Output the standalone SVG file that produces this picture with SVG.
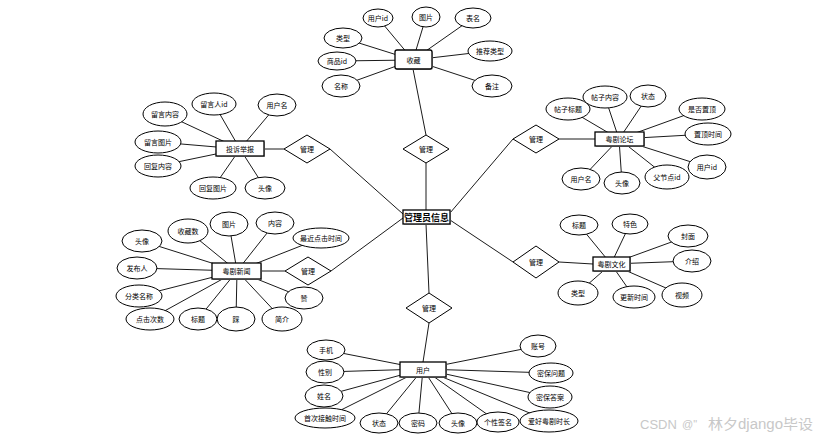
<svg xmlns="http://www.w3.org/2000/svg" width="831" height="440" viewBox="0 0 831 440">
<style>
.c line{stroke:#000;stroke-width:0.9}
.a ellipse{fill:#fff;stroke:#000;stroke-width:1}
.e rect.s{fill:#bbb;stroke:none}
.e rect.b{fill:#fff;stroke:#000;stroke-width:1.3}
.d polygon{fill:#fff;stroke:#000;stroke-width:1}
text{font-family:"Noto Sans CJK SC","Liberation Sans",sans-serif;font-size:7px;fill:#000;text-anchor:middle;dominant-baseline:central}
.big{font-size:9px;font-weight:bold}
.wm{font-size:13px;fill:#c8c8c8;text-anchor:start;font-family:"Liberation Sans","Noto Sans CJK SC",sans-serif}
</style>
<rect width="831" height="440" fill="#fff"/>
<g id="connectors" class="c">
<line x1="413" y1="69" x2="426" y2="135"/>
<line x1="426" y1="163" x2="426" y2="210"/>
<line x1="264" y1="149" x2="284" y2="149"/>
<line x1="330" y1="149" x2="403" y2="214"/>
<line x1="261" y1="271" x2="285" y2="271"/>
<line x1="331" y1="271" x2="403" y2="218"/>
<line x1="450" y1="213" x2="513" y2="139"/>
<line x1="559" y1="139" x2="595" y2="139"/>
<line x1="450" y1="220" x2="513" y2="262"/>
<line x1="559" y1="262" x2="593" y2="264"/>
<line x1="426" y1="224" x2="429" y2="293"/>
<line x1="429" y1="323" x2="423" y2="362"/>
<line x1="378" y1="18" x2="413" y2="60"/>
<line x1="426" y1="17" x2="413" y2="60"/>
<line x1="473" y1="18" x2="413" y2="60"/>
<line x1="343" y1="38" x2="413" y2="60"/>
<line x1="337" y1="61" x2="413" y2="60"/>
<line x1="341" y1="86" x2="413" y2="60"/>
<line x1="490" y1="51" x2="413" y2="60"/>
<line x1="492" y1="86" x2="413" y2="60"/>
<line x1="165" y1="114" x2="240" y2="149"/>
<line x1="214" y1="104" x2="240" y2="149"/>
<line x1="277" y1="105" x2="240" y2="149"/>
<line x1="158" y1="142" x2="240" y2="149"/>
<line x1="158" y1="166" x2="240" y2="149"/>
<line x1="213" y1="188" x2="240" y2="149"/>
<line x1="265" y1="188" x2="240" y2="149"/>
<line x1="568" y1="109" x2="619" y2="139"/>
<line x1="605" y1="97" x2="619" y2="139"/>
<line x1="648" y1="96" x2="619" y2="139"/>
<line x1="702" y1="109" x2="619" y2="139"/>
<line x1="708" y1="134" x2="619" y2="139"/>
<line x1="707" y1="167" x2="619" y2="139"/>
<line x1="581" y1="179" x2="619" y2="139"/>
<line x1="622" y1="183" x2="619" y2="139"/>
<line x1="667" y1="177" x2="619" y2="139"/>
<line x1="142" y1="241" x2="237" y2="271"/>
<line x1="137" y1="268" x2="237" y2="271"/>
<line x1="139" y1="296" x2="237" y2="271"/>
<line x1="150" y1="319" x2="237" y2="271"/>
<line x1="188" y1="231" x2="237" y2="271"/>
<line x1="229" y1="224" x2="237" y2="271"/>
<line x1="275" y1="223" x2="237" y2="271"/>
<line x1="321" y1="238" x2="237" y2="271"/>
<line x1="304" y1="298" x2="237" y2="271"/>
<line x1="282" y1="319" x2="237" y2="271"/>
<line x1="236" y1="319" x2="237" y2="271"/>
<line x1="198" y1="319" x2="237" y2="271"/>
<line x1="579" y1="225" x2="611" y2="264"/>
<line x1="630" y1="224" x2="611" y2="264"/>
<line x1="688" y1="236" x2="611" y2="264"/>
<line x1="692" y1="261" x2="611" y2="264"/>
<line x1="682" y1="295" x2="611" y2="264"/>
<line x1="578" y1="293" x2="611" y2="264"/>
<line x1="634" y1="297" x2="611" y2="264"/>
<line x1="326" y1="350" x2="423" y2="369"/>
<line x1="325" y1="372" x2="423" y2="369"/>
<line x1="324" y1="396" x2="423" y2="369"/>
<line x1="325" y1="418" x2="423" y2="369"/>
<line x1="379" y1="423" x2="423" y2="369"/>
<line x1="418" y1="423" x2="423" y2="369"/>
<line x1="458" y1="423" x2="423" y2="369"/>
<line x1="498" y1="422" x2="423" y2="369"/>
<line x1="549" y1="421" x2="423" y2="369"/>
<line x1="538" y1="346" x2="423" y2="369"/>
<line x1="551" y1="373" x2="423" y2="369"/>
<line x1="550" y1="397" x2="423" y2="369"/>
</g>

<g id="rel-top" class="d"><polygon points="426,135 449,149 426,163 403,149"/><text x="426" y="149">管理</text></g>
<g id="rel-ul" class="d"><polygon points="307,135 330,149 307,163 284,149"/><text x="307" y="149">管理</text></g>
<g id="rel-ll" class="d"><polygon points="308,257 331,271 308,285 285,271"/><text x="308" y="271">管理</text></g>
<g id="rel-ur" class="d"><polygon points="536,125 559,139 536,153 513,139"/><text x="536" y="139">管理</text></g>
<g id="rel-lr" class="d"><polygon points="536,246 559,262 536,278 513,262"/><text x="536" y="262">管理</text></g>
<g id="rel-bottom" class="d"><polygon points="429,293 452,308 429,323 406,308"/><text x="429" y="308">管理</text></g>

<g id="ent-shoucang" class="e"><rect class="s" x="396" y="51" width="37" height="19" rx="2"/><rect class="b" x="395" y="50" width="37" height="19" rx="2"/><text x="413.5" y="59.5">收藏</text></g>
<g id="ent-tousu" class="e"><rect class="s" x="217" y="142" width="48" height="15"/><rect class="b" x="216" y="141" width="48" height="15"/><text x="240" y="148.5">投诉举报</text></g>
<g id="ent-luntan" class="e"><rect class="s" x="596" y="133" width="49" height="14"/><rect class="b" x="595" y="132" width="49" height="14"/><text x="619.5" y="139">粤剧论坛</text></g>
<g id="ent-admin" class="e"><rect class="s" x="404" y="211" width="47" height="14"/><rect class="b" x="403" y="210" width="47" height="14"/><text class="big" x="426.5" y="217">管理员信息</text></g>
<g id="ent-xinwen" class="e"><rect class="s" x="213" y="264" width="49" height="16"/><rect class="b" x="212" y="263" width="49" height="16"/><text x="236.5" y="271">粤剧新闻</text></g>
<g id="ent-wenhua" class="e"><rect class="s" x="594" y="258" width="37" height="14"/><rect class="b" x="593" y="257" width="37" height="14"/><text x="611.5" y="264">粤剧文化</text></g>
<g id="ent-yonghu" class="e"><rect class="s" x="401" y="363" width="46" height="15"/><rect class="b" x="400" y="362" width="46" height="15"/><text x="423" y="369.5">用户</text></g>

<g id="a-sc-1" class="a"><ellipse cx="378" cy="18" rx="15" ry="9"/><text x="378" y="18">用户id</text></g>
<g id="a-sc-2" class="a"><ellipse cx="426" cy="17" rx="14" ry="10"/><text x="426" y="17">图片</text></g>
<g id="a-sc-3" class="a"><ellipse cx="473" cy="18" rx="18" ry="10"/><text x="473" y="18">表名</text></g>
<g id="a-sc-4" class="a"><ellipse cx="343" cy="38" rx="19" ry="10"/><text x="343" y="38">类型</text></g>
<g id="a-sc-5" class="a"><ellipse cx="337" cy="61" rx="19" ry="9"/><text x="337" y="61">商品id</text></g>
<g id="a-sc-6" class="a"><ellipse cx="341" cy="86" rx="19" ry="11"/><text x="341" y="86">名称</text></g>
<g id="a-sc-7" class="a"><ellipse cx="490" cy="51" rx="22" ry="10"/><text x="490" y="51">推荐类型</text></g>
<g id="a-sc-8" class="a"><ellipse cx="492" cy="86" rx="20" ry="11"/><text x="492" y="86">备注</text></g>

<g id="a-ts-1" class="a"><ellipse cx="165" cy="114" rx="22" ry="12"/><text x="165" y="114">留言内容</text></g>
<g id="a-ts-2" class="a"><ellipse cx="214" cy="104" rx="22" ry="11"/><text x="214" y="104">留言人id</text></g>
<g id="a-ts-3" class="a"><ellipse cx="277" cy="105" rx="19" ry="11"/><text x="277" y="105">用户名</text></g>
<g id="a-ts-4" class="a"><ellipse cx="158" cy="142" rx="23" ry="11"/><text x="158" y="142">留言图片</text></g>
<g id="a-ts-5" class="a"><ellipse cx="158" cy="166" rx="23" ry="11"/><text x="158" y="166">回复内容</text></g>
<g id="a-ts-6" class="a"><ellipse cx="213" cy="188" rx="23" ry="11"/><text x="213" y="188">回复图片</text></g>
<g id="a-ts-7" class="a"><ellipse cx="265" cy="188" rx="20" ry="11"/><text x="265" y="188">头像</text></g>

<g id="a-lt-1" class="a"><ellipse cx="568" cy="109" rx="22" ry="11"/><text x="568" y="109">帖子标题</text></g>
<g id="a-lt-2" class="a"><ellipse cx="605" cy="97" rx="22" ry="11"/><text x="605" y="97">帖子内容</text></g>
<g id="a-lt-3" class="a"><ellipse cx="648" cy="96" rx="18" ry="11"/><text x="648" y="96">状态</text></g>
<g id="a-lt-4" class="a"><ellipse cx="702" cy="109" rx="23" ry="11"/><text x="702" y="109">是否置顶</text></g>
<g id="a-lt-5" class="a"><ellipse cx="708" cy="134" rx="23" ry="11"/><text x="708" y="134">置顶时间</text></g>
<g id="a-lt-6" class="a"><ellipse cx="707" cy="167" rx="19" ry="12"/><text x="707" y="167">用户id</text></g>
<g id="a-lt-7" class="a"><ellipse cx="581" cy="179" rx="19" ry="11"/><text x="581" y="179">用户名</text></g>
<g id="a-lt-8" class="a"><ellipse cx="622" cy="183" rx="18" ry="11"/><text x="622" y="183">头像</text></g>
<g id="a-lt-9" class="a"><ellipse cx="667" cy="177" rx="22" ry="12"/><text x="667" y="177">父节点id</text></g>

<g id="a-xw-1" class="a"><ellipse cx="142" cy="241" rx="20" ry="11"/><text x="142" y="241">头像</text></g>
<g id="a-xw-2" class="a"><ellipse cx="137" cy="268" rx="20" ry="11"/><text x="137" y="268">发布人</text></g>
<g id="a-xw-3" class="a"><ellipse cx="139" cy="296" rx="23" ry="11"/><text x="139" y="296">分类名称</text></g>
<g id="a-xw-4" class="a"><ellipse cx="150" cy="319" rx="24" ry="11"/><text x="150" y="319">点击次数</text></g>
<g id="a-xw-5" class="a"><ellipse cx="188" cy="231" rx="20" ry="12"/><text x="188" y="231">收藏数</text></g>
<g id="a-xw-6" class="a"><ellipse cx="229" cy="224" rx="19" ry="12"/><text x="229" y="224">图片</text></g>
<g id="a-xw-7" class="a"><ellipse cx="275" cy="223" rx="19" ry="11"/><text x="275" y="223">内容</text></g>
<g id="a-xw-8" class="a"><ellipse cx="321" cy="238" rx="28" ry="10"/><text x="321" y="238">最近点击时间</text></g>
<g id="a-xw-9" class="a"><ellipse cx="304" cy="298" rx="19" ry="11"/><text x="304" y="298">赞</text></g>
<g id="a-xw-10" class="a"><ellipse cx="282" cy="319" rx="20" ry="12"/><text x="282" y="319">简介</text></g>
<g id="a-xw-11" class="a"><ellipse cx="236" cy="319" rx="19" ry="12"/><text x="236" y="319">踩</text></g>
<g id="a-xw-12" class="a"><ellipse cx="198" cy="319" rx="19" ry="11"/><text x="198" y="319">标题</text></g>

<g id="a-wh-1" class="a"><ellipse cx="579" cy="225" rx="19" ry="10"/><text x="579" y="225">标题</text></g>
<g id="a-wh-2" class="a"><ellipse cx="630" cy="224" rx="18" ry="10"/><text x="630" y="224">特色</text></g>
<g id="a-wh-3" class="a"><ellipse cx="688" cy="236" rx="20" ry="11"/><text x="688" y="236">封面</text></g>
<g id="a-wh-4" class="a"><ellipse cx="692" cy="261" rx="19" ry="11"/><text x="692" y="261">介绍</text></g>
<g id="a-wh-5" class="a"><ellipse cx="682" cy="295" rx="20" ry="12"/><text x="682" y="295">视频</text></g>
<g id="a-wh-6" class="a"><ellipse cx="578" cy="293" rx="20" ry="12"/><text x="578" y="293">类型</text></g>
<g id="a-wh-7" class="a"><ellipse cx="634" cy="297" rx="21" ry="11"/><text x="634" y="297">更新时间</text></g>

<g id="a-yh-1" class="a"><ellipse cx="326" cy="350" rx="19" ry="10"/><text x="326" y="350">手机</text></g>
<g id="a-yh-2" class="a"><ellipse cx="325" cy="372" rx="19" ry="11"/><text x="325" y="372">性别</text></g>
<g id="a-yh-3" class="a"><ellipse cx="324" cy="396" rx="19" ry="11"/><text x="324" y="396">姓名</text></g>
<g id="a-yh-4" class="a"><ellipse cx="325" cy="418" rx="30" ry="10"/><text x="325" y="418">首次接触时间</text></g>
<g id="a-yh-5" class="a"><ellipse cx="379" cy="423" rx="19" ry="10"/><text x="379" y="423">状态</text></g>
<g id="a-yh-6" class="a"><ellipse cx="418" cy="423" rx="19" ry="10"/><text x="418" y="423">密码</text></g>
<g id="a-yh-7" class="a"><ellipse cx="458" cy="423" rx="19" ry="10"/><text x="458" y="423">头像</text></g>
<g id="a-yh-8" class="a"><ellipse cx="498" cy="422" rx="21" ry="10"/><text x="498" y="422">个性签名</text></g>
<g id="a-yh-9" class="a"><ellipse cx="549" cy="421" rx="29" ry="11"/><text x="549" y="421">爱好粤剧时长</text></g>
<g id="a-yh-10" class="a"><ellipse cx="538" cy="346" rx="18" ry="11"/><text x="538" y="346">账号</text></g>
<g id="a-yh-11" class="a"><ellipse cx="551" cy="373" rx="22" ry="10"/><text x="551" y="373">密保问题</text></g>
<g id="a-yh-12" class="a"><ellipse cx="550" cy="397" rx="22" ry="11"/><text x="550" y="397">密保答案</text></g>

<g id="watermark">
<text class="wm" x="640" y="424">CSDN</text>
<text class="wm" x="682" y="424" style="font-size:11px">@"</text>
<text class="wm" x="708" y="424" style="font-size:14px" textLength="105" lengthAdjust="spacingAndGlyphs">林夕django毕设</text>
</g>
</svg>
